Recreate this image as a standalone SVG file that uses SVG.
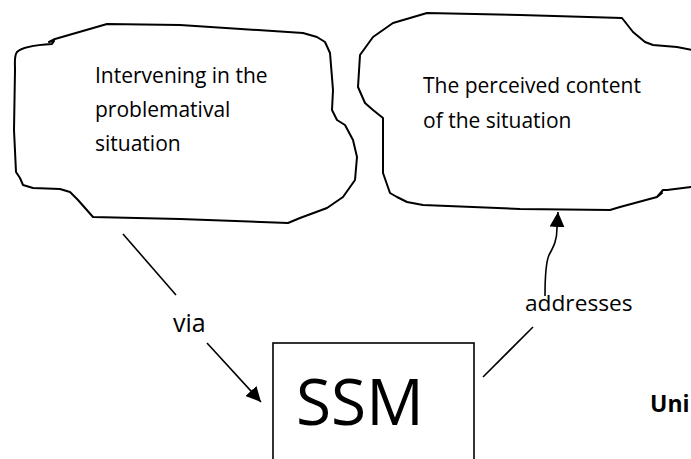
<svg xmlns="http://www.w3.org/2000/svg" width="691" height="459" viewBox="0 0 691 459">
<style>
.cloud{fill:#fff;stroke:#000;stroke-width:2;stroke-linejoin:round;stroke-linecap:round}
.t{font-family:"Open Sans","Noto Sans","Liberation Sans",sans-serif;font-size:21px;fill:#000}
.conn{fill:none;stroke:#000;stroke-width:1.6}
</style>
<defs>
<marker id="ah2" viewBox="0 0 10 10" refX="10" refY="5" markerWidth="15" markerHeight="15" markerUnits="userSpaceOnUse" orient="auto">
<path d="M0,0 L10,5 L0,10 Z" fill="#000"/>
</marker>
</defs>
<rect width="691" height="459" fill="#fff"/>
<g id="cloud-left">
<path class="cloud" d="M107,24 L180,25 L303,33 L317,37 L325,42 L330,53 L333,90 L332,110 L337,120 L345,125 L353,140 L357,157 L355,180 L343,197 L327,208 L300,218 L288,223 L180,219 L93,217 L78,200 L70,192 L60,189 L33,188 L23,185 L20,178 L16,172 L14,130 L15,70 C15,60 14,56 17,52 C22,47 35,45 52,44 L54,41 L49,42 L55,39 Z"/>
<text class="t" x="95" y="83">Intervening in the</text>
<text class="t" x="95" y="117">problematival</text>
<text class="t" x="95" y="151">situation</text>
</g>
<g id="cloud-right">
<path class="cloud" d="M427,13 L520,15 L622,18 L633,32 L645,42 L653,45 L677,47 L692,50 L700,50 L700,187 L691,187 L667,190 L663,190 L657,197 L662,193 L657,197 L620,207 L610,210 L520,209 L423,205 L407,202 L397,197 L390,193 L383,173 L383,143 L383,118 L373,110 L365,103 L358,87 L360,55 L373,37 L393,23 Z"/>
<text class="t" x="423" y="93">The perceived content</text>
<text class="t" x="423" y="128">of the situation</text>
</g>
<g id="ssm">
<rect x="273" y="343" width="201" height="130" fill="#fff" stroke="#000" stroke-width="1.6"/>
<text x="296" y="425" font-family="'Open Sans','Noto Sans',sans-serif" font-size="64" fill="#000">SSM</text>
</g>
<g id="uni">
<text x="650" y="412" font-family="'Open Sans','Noto Sans',sans-serif" font-size="23" font-weight="bold" fill="#000">Uni</text>
</g>
<g id="connectors">
<line class="conn" x1="123" y1="234" x2="176" y2="295"/>
<line class="conn" x1="207" y1="343" x2="261" y2="402" marker-end="url(#ah2)"/>
<text class="t" x="173" y="332" style="font-size:25px">via</text>
<line class="conn" x1="483" y1="377" x2="533" y2="327"/>
<path class="conn" d="M545,296 C545,275 546,262 549,255 C554,246 557,240 557,228 L558,212" marker-end="url(#ah2)"/>
<text class="t" x="525" y="311" style="font-size:22.7px">addresses</text>
</g>
</svg>
